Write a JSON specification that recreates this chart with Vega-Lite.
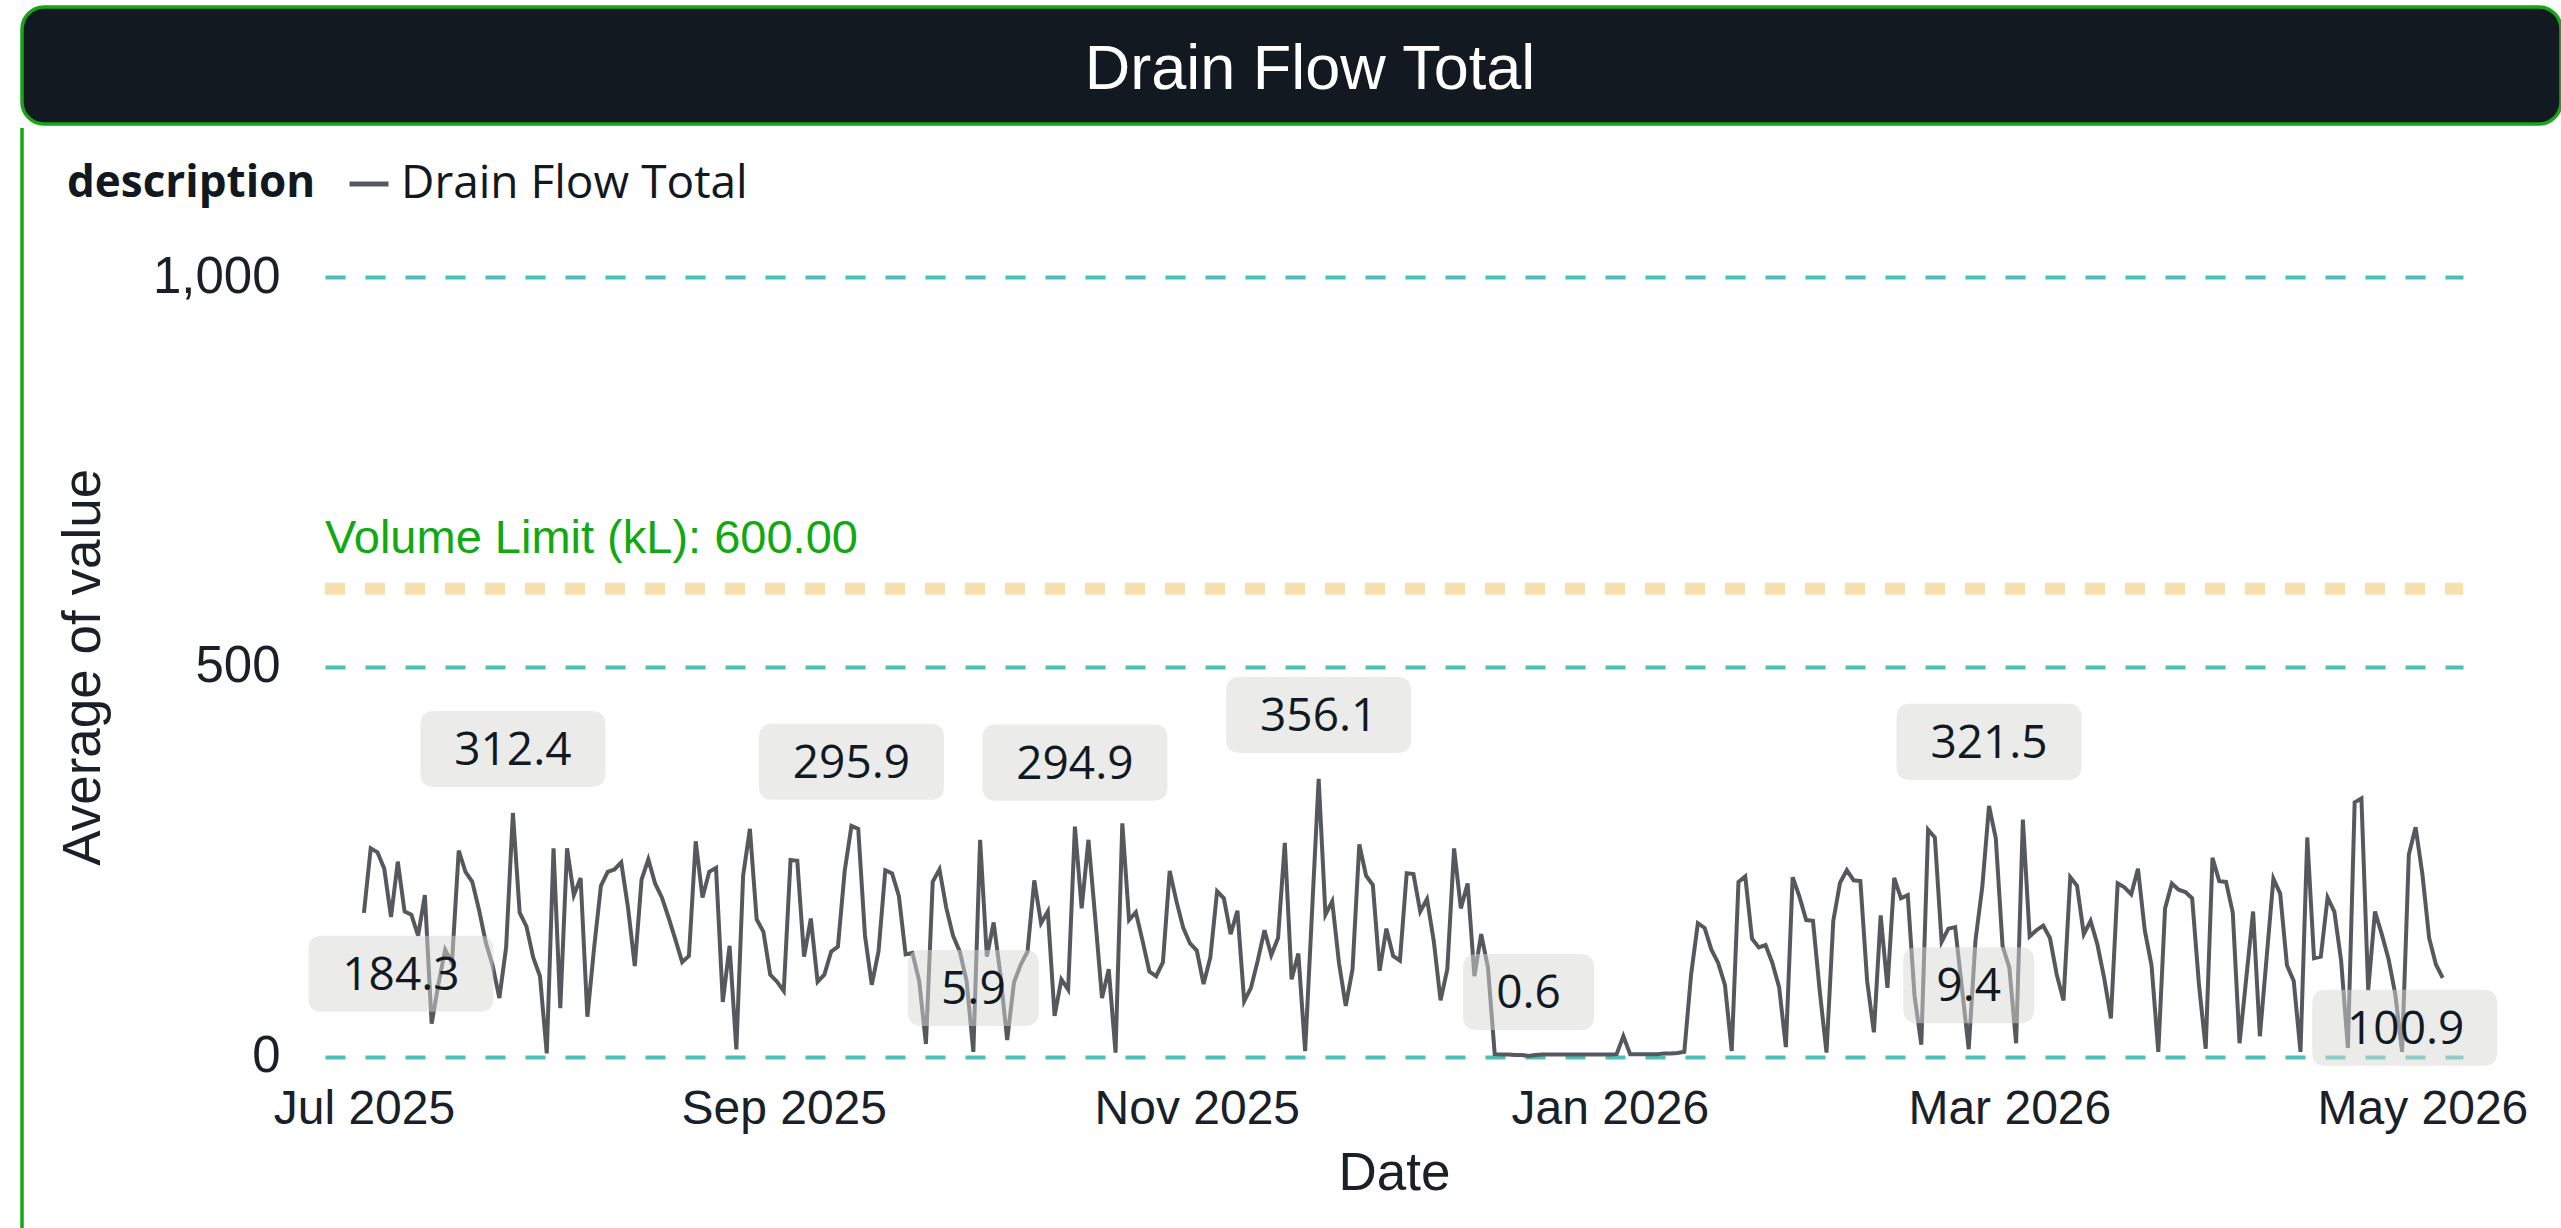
{
  "$schema": "https://vega.github.io/schema/vega-lite/v6.json",
  "background": "white",
  "padding": {"left": 20, "top": 5, "right": 0, "bottom": 0},
  "spacing": 0,
  "datasets": {
    "drain": [
      {"date":"2025-07-01","value":184.3},{"date":"2025-07-02","value":267},{"date":"2025-07-03","value":262},{"date":"2025-07-04","value":241},{"date":"2025-07-05","value":179},{"date":"2025-07-06","value":250},{"date":"2025-07-07","value":186},{"date":"2025-07-08","value":182},{"date":"2025-07-09","value":155},{"date":"2025-07-10","value":207},{"date":"2025-07-11","value":42},{"date":"2025-07-12","value":93},{"date":"2025-07-13","value":137},{"date":"2025-07-14","value":120},{"date":"2025-07-15","value":264},{"date":"2025-07-16","value":237},{"date":"2025-07-17","value":224},{"date":"2025-07-18","value":188},{"date":"2025-07-19","value":146},{"date":"2025-07-20","value":117},{"date":"2025-07-21","value":75},{"date":"2025-07-22","value":140},{"date":"2025-07-23","value":312.4},{"date":"2025-07-24","value":184.5},{"date":"2025-07-25","value":167},{"date":"2025-07-26","value":127},{"date":"2025-07-27","value":103},{"date":"2025-07-28","value":4},{"date":"2025-07-29","value":267},{"date":"2025-07-30","value":62},{"date":"2025-07-31","value":267},
      {"date":"2025-08-01","value":207},{"date":"2025-08-02","value":229},{"date":"2025-08-03","value":51},{"date":"2025-08-04","value":140},{"date":"2025-08-05","value":219},{"date":"2025-08-06","value":237},{"date":"2025-08-07","value":240},{"date":"2025-08-08","value":249},{"date":"2025-08-09","value":191},{"date":"2025-08-10","value":116},{"date":"2025-08-11","value":227},{"date":"2025-08-12","value":253},{"date":"2025-08-13","value":222},{"date":"2025-08-14","value":204},{"date":"2025-08-15","value":178},{"date":"2025-08-16","value":150},{"date":"2025-08-17","value":121},{"date":"2025-08-18","value":129},{"date":"2025-08-19","value":276},{"date":"2025-08-20","value":204},{"date":"2025-08-21","value":237},{"date":"2025-08-22","value":242},{"date":"2025-08-23","value":70},{"date":"2025-08-24","value":142},{"date":"2025-08-25","value":9},{"date":"2025-08-26","value":232},{"date":"2025-08-27","value":292},{"date":"2025-08-28","value":176},{"date":"2025-08-29","value":160},{"date":"2025-08-30","value":105},{"date":"2025-08-31","value":96},
      {"date":"2025-09-01","value":84},{"date":"2025-09-02","value":252},{"date":"2025-09-03","value":251},{"date":"2025-09-04","value":128},{"date":"2025-09-05","value":177},{"date":"2025-09-06","value":96},{"date":"2025-09-07","value":105},{"date":"2025-09-08","value":134.5},{"date":"2025-09-09","value":141},{"date":"2025-09-10","value":238},{"date":"2025-09-11","value":295.9},{"date":"2025-09-12","value":292},{"date":"2025-09-13","value":155},{"date":"2025-09-14","value":92},{"date":"2025-09-15","value":135},{"date":"2025-09-16","value":239},{"date":"2025-09-17","value":235},{"date":"2025-09-18","value":206},{"date":"2025-09-19","value":131},{"date":"2025-09-20","value":133},{"date":"2025-09-21","value":97},{"date":"2025-09-22","value":16},{"date":"2025-09-23","value":224},{"date":"2025-09-24","value":240},{"date":"2025-09-25","value":191},{"date":"2025-09-26","value":155},{"date":"2025-09-27","value":134.5},{"date":"2025-09-28","value":97},{"date":"2025-09-29","value":5.9},{"date":"2025-09-30","value":278},
      {"date":"2025-10-01","value":128},{"date":"2025-10-02","value":172},{"date":"2025-10-03","value":105},{"date":"2025-10-04","value":21},{"date":"2025-10-05","value":95},{"date":"2025-10-06","value":118},{"date":"2025-10-07","value":134.5},{"date":"2025-10-08","value":226},{"date":"2025-10-09","value":171},{"date":"2025-10-10","value":186},{"date":"2025-10-11","value":52},{"date":"2025-10-12","value":99},{"date":"2025-10-13","value":86},{"date":"2025-10-14","value":294.9},{"date":"2025-10-15","value":190},{"date":"2025-10-16","value":278},{"date":"2025-10-17","value":178},{"date":"2025-10-18","value":75},{"date":"2025-10-19","value":112},{"date":"2025-10-20","value":5},{"date":"2025-10-21","value":299},{"date":"2025-10-22","value":175},{"date":"2025-10-23","value":185},{"date":"2025-10-24","value":148},{"date":"2025-10-25","value":109},{"date":"2025-10-26","value":103},{"date":"2025-10-27","value":121},{"date":"2025-10-28","value":238},{"date":"2025-10-29","value":199},{"date":"2025-10-30","value":165},{"date":"2025-10-31","value":145},
      {"date":"2025-11-01","value":136},{"date":"2025-11-02","value":93},{"date":"2025-11-03","value":127},{"date":"2025-11-04","value":212},{"date":"2025-11-05","value":203},{"date":"2025-11-06","value":157},{"date":"2025-11-07","value":187},{"date":"2025-11-08","value":71},{"date":"2025-11-09","value":88},{"date":"2025-11-10","value":123},{"date":"2025-11-11","value":162},{"date":"2025-11-12","value":130},{"date":"2025-11-13","value":152},{"date":"2025-11-14","value":274},{"date":"2025-11-15","value":99},{"date":"2025-11-16","value":132},{"date":"2025-11-17","value":7},{"date":"2025-11-18","value":182},{"date":"2025-11-19","value":356.1},{"date":"2025-11-20","value":182},{"date":"2025-11-21","value":199},{"date":"2025-11-22","value":120},{"date":"2025-11-23","value":65},{"date":"2025-11-24","value":112},{"date":"2025-11-25","value":272},{"date":"2025-11-26","value":232},{"date":"2025-11-27","value":220},{"date":"2025-11-28","value":110},{"date":"2025-11-29","value":164},{"date":"2025-11-30","value":129},
      {"date":"2025-12-01","value":123},{"date":"2025-12-02","value":235},{"date":"2025-12-03","value":234},{"date":"2025-12-04","value":186},{"date":"2025-12-05","value":202},{"date":"2025-12-06","value":148},{"date":"2025-12-07","value":72},{"date":"2025-12-08","value":112},{"date":"2025-12-09","value":267},{"date":"2025-12-10","value":190},{"date":"2025-12-11","value":222},{"date":"2025-12-12","value":103},{"date":"2025-12-13","value":157},{"date":"2025-12-14","value":114},{"date":"2025-12-15","value":3},{"date":"2025-12-16","value":2.5},{"date":"2025-12-17","value":2.5},{"date":"2025-12-18","value":2},{"date":"2025-12-19","value":2},{"date":"2025-12-20","value":0.6},{"date":"2025-12-21","value":2},{"date":"2025-12-22","value":2.5},{"date":"2025-12-23","value":2.5},{"date":"2025-12-24","value":2.5},{"date":"2025-12-25","value":2.5},{"date":"2025-12-26","value":2.5},{"date":"2025-12-27","value":2.5},{"date":"2025-12-28","value":2.5},{"date":"2025-12-29","value":2.5},{"date":"2025-12-30","value":2.5},{"date":"2025-12-31","value":2.5},
      {"date":"2026-01-01","value":2.5},{"date":"2026-01-02","value":3},{"date":"2026-01-03","value":26},{"date":"2026-01-04","value":3},{"date":"2026-01-05","value":3},{"date":"2026-01-06","value":3},{"date":"2026-01-07","value":3},{"date":"2026-01-08","value":3},{"date":"2026-01-09","value":4},{"date":"2026-01-10","value":4},{"date":"2026-01-11","value":4.5},{"date":"2026-01-12","value":6},{"date":"2026-01-13","value":105},{"date":"2026-01-14","value":171},{"date":"2026-01-15","value":165},{"date":"2026-01-16","value":137},{"date":"2026-01-17","value":120},{"date":"2026-01-18","value":92},{"date":"2026-01-19","value":7},{"date":"2026-01-20","value":224},{"date":"2026-01-21","value":231},{"date":"2026-01-22","value":151},{"date":"2026-01-23","value":140},{"date":"2026-01-24","value":143},{"date":"2026-01-25","value":120},{"date":"2026-01-26","value":89},{"date":"2026-01-27","value":12},{"date":"2026-01-28","value":230},{"date":"2026-01-29","value":205},{"date":"2026-01-30","value":175},{"date":"2026-01-31","value":174},
      {"date":"2026-02-01","value":84},{"date":"2026-02-02","value":5},{"date":"2026-02-03","value":174},{"date":"2026-02-04","value":223},{"date":"2026-02-05","value":239},{"date":"2026-02-06","value":226},{"date":"2026-02-07","value":225},{"date":"2026-02-08","value":97},{"date":"2026-02-09","value":31},{"date":"2026-02-10","value":181},{"date":"2026-02-11","value":88},{"date":"2026-02-12","value":229},{"date":"2026-02-13","value":203},{"date":"2026-02-14","value":207},{"date":"2026-02-15","value":78},{"date":"2026-02-16","value":15},{"date":"2026-02-17","value":291},{"date":"2026-02-18","value":281},{"date":"2026-02-19","value":147},{"date":"2026-02-20","value":164},{"date":"2026-02-21","value":166},{"date":"2026-02-22","value":88},{"date":"2026-02-23","value":9.4},{"date":"2026-02-24","value":149},{"date":"2026-02-25","value":217},{"date":"2026-02-26","value":321.5},{"date":"2026-02-27","value":280},{"date":"2026-02-28","value":142},
      {"date":"2026-03-01","value":114},{"date":"2026-03-02","value":17},{"date":"2026-03-03","value":304},{"date":"2026-03-04","value":154},{"date":"2026-03-05","value":162},{"date":"2026-03-06","value":168},{"date":"2026-03-07","value":152},{"date":"2026-03-08","value":105},{"date":"2026-03-09","value":72},{"date":"2026-03-10","value":230},{"date":"2026-03-11","value":219},{"date":"2026-03-12","value":157},{"date":"2026-03-13","value":174},{"date":"2026-03-14","value":144},{"date":"2026-03-15","value":101},{"date":"2026-03-16","value":49},{"date":"2026-03-17","value":222},{"date":"2026-03-18","value":217},{"date":"2026-03-19","value":208},{"date":"2026-03-20","value":241},{"date":"2026-03-21","value":162},{"date":"2026-03-22","value":117},{"date":"2026-03-23","value":6},{"date":"2026-03-24","value":190},{"date":"2026-03-25","value":222},{"date":"2026-03-26","value":214},{"date":"2026-03-27","value":211},{"date":"2026-03-28","value":203},{"date":"2026-03-29","value":93},{"date":"2026-03-30","value":10},{"date":"2026-03-31","value":255},
      {"date":"2026-04-01","value":225},{"date":"2026-04-02","value":224},{"date":"2026-04-03","value":184.5},{"date":"2026-04-04","value":17},{"date":"2026-04-05","value":101},{"date":"2026-04-06","value":186},{"date":"2026-04-07","value":26},{"date":"2026-04-08","value":127},{"date":"2026-04-09","value":228},{"date":"2026-04-10","value":209},{"date":"2026-04-11","value":117},{"date":"2026-04-12","value":97},{"date":"2026-04-13","value":6},{"date":"2026-04-14","value":281},{"date":"2026-04-15","value":126},{"date":"2026-04-16","value":128},{"date":"2026-04-17","value":204},{"date":"2026-04-18","value":186},{"date":"2026-04-19","value":123},{"date":"2026-04-20","value":11},{"date":"2026-04-21","value":326},{"date":"2026-04-22","value":331},{"date":"2026-04-23","value":85},{"date":"2026-04-24","value":186},{"date":"2026-04-25","value":157},{"date":"2026-04-26","value":125},{"date":"2026-04-27","value":80},{"date":"2026-04-28","value":6},{"date":"2026-04-29","value":259},{"date":"2026-04-30","value":294},
      {"date":"2026-05-01","value":234},{"date":"2026-05-02","value":152},{"date":"2026-05-03","value":118},{"date":"2026-05-04","value":100.9}
    ],
    "peaks": [
      {"date":"2025-07-23","value":312.4,"label":"312.4"},
      {"date":"2025-09-11","value":295.9,"label":"295.9"},
      {"date":"2025-10-14","value":294.9,"label":"294.9"},
      {"date":"2025-11-19","value":356.1,"label":"356.1"},
      {"date":"2026-02-26","value":321.5,"label":"321.5"}
    ],
    "lows": [
      {"date":"2025-09-29","value":5.9,"label":"5.9"},
      {"date":"2025-12-20","value":0.6,"label":"0.6"},
      {"date":"2026-02-23","value":9.4,"label":"9.4"}
    ],
    "first": [{"date":"2025-07-01","value":184.3,"label":"184.3"}],
    "last": [{"date":"2026-05-04","value":100.9,"label":"100.9"}],
    "volumeLimit": [{"value":600,"label":"Volume Limit (kL): 600.00","start":"2025-06-25T06:00:00Z","end":"2026-05-07T00:00:00Z"}],
    "header": [{"title":"Drain Flow Total"}]
  },
  "vconcat": [
    {
      "width": 2539,
      "height": 117,
      "view": {"fill": "#121920", "stroke": "#17a617", "strokeWidth": 3.5, "cornerRadius": 22},
      "data": {"name": "header"},
      "mark": {"type": "text", "font": "Liberation Sans", "fontSize": 63, "color": "#ffffff", "baseline": "alphabetic", "align": "center", "dy": 23.5, "dx": 18.5},
      "encoding": {"text": {"field": "title", "type": "nominal"}}
    },
    {
      "width": 2539,
      "height": 1103,
      "view": {"fill": null, "stroke": "#17a617", "strokeWidth": 3.5, "strokeDash": [0, 6181, 1103]},
      "encoding": {
        "x": {
          "field": "date", "type": "temporal", "title": "Date",
          "scale": {"type": "utc", "domain": [{"year":2025,"month":6,"date":25,"hours":6,"utc":true},{"year":2026,"month":5,"date":7,"utc":true}], "range": [303, 2441]},
          "axis": {"values": [{"year":2025,"month":7,"date":1,"utc":true},{"year":2025,"month":9,"date":1,"utc":true},{"year":2025,"month":11,"date":1,"utc":true},{"year":2026,"month":1,"date":1,"utc":true},{"year":2026,"month":3,"date":1,"utc":true},{"year":2026,"month":5,"date":1,"utc":true}], "format": "%b %Y"}
        },
        "y": {
          "field": "value", "type": "quantitative", "title": "Average of value",
          "scale": {"domain": [0, 1000], "range": [928.5, 149], "nice": false, "zero": true},
          "axis": {"values": [0, 500, 1000], "format": ",d"}
        }
      },
      "layer": [
        {
          "data": {"name": "volumeLimit"},
          "mark": {"type": "rule", "color": "#f8dfae", "strokeWidth": 12, "strokeDash": [20, 20]},
          "encoding": {
            "x": {"field": "start", "type": "temporal"},
            "x2": {"field": "end"}
          }
        },
        {
          "data": {"name": "volumeLimit"},
          "mark": {"type": "text", "font": "Liberation Sans", "fontSize": 47, "color": "#12a812", "align": "left", "baseline": "alphabetic", "dy": -36},
          "encoding": {
            "x": {"field": "start", "type": "temporal"},
            "text": {"field": "label", "type": "nominal"}
          }
        },
        {
          "data": {"name": "drain"},
          "mark": {"type": "line", "strokeWidth": 4, "interpolate": "linear"},
          "encoding": {
            "color": {
              "datum": "Drain Flow Total", "type": "nominal",
              "scale": {"range": ["#55595e"]},
              "legend": {"orient": "none", "legendX": 45, "legendY": 154, "direction": "horizontal", "title": "description", "titleOrient": "left", "titleFont": "Open Sans", "titleFontSize": 44, "titleFontWeight": "bold", "titleColor": "#111820", "titlePadding": 30, "titleLimit": 600, "labelFont": "Open Sans", "labelFontSize": 46, "labelColor": "#111820", "labelOffset": 9, "labelLimit": 800, "symbolType": "stroke", "symbolStrokeWidth": 5, "symbolSize": 1521}
            }
          }
        },
        {
          "data": {"name": "peaks"},
          "layer": [
            {"mark": {"type": "point", "shape": "M-0.849,-0.411L0.849,-0.411Q1,-0.411 1,-0.26L1,0.26Q1,0.411 0.849,0.411L-0.849,0.411Q-1,0.411 -1,0.26L-1,-0.26Q-1,-0.411 -0.849,-0.411Z", "size": 34225, "filled": true, "color": "#d7d7d5", "opacity": 0.5, "strokeWidth": 0, "yOffset": -64}},
            {"mark": {"type": "text", "font": "Open Sans", "fontSize": 46, "color": "#111a22", "baseline": "middle", "dy": -62}, "encoding": {"text": {"field": "label", "type": "nominal"}}}
          ]
        },
        {
          "data": {"name": "lows"},
          "layer": [
            {"mark": {"type": "point", "shape": "M-0.786,-0.58L0.786,-0.58Q1,-0.58 1,-0.366L1,0.366Q1,0.58 0.786,0.58L-0.786,0.58Q-1,0.58 -1,0.366L-1,-0.366Q-1,-0.58 -0.786,-0.58Z", "size": 17161, "filled": true, "color": "#d7d7d5", "opacity": 0.5, "strokeWidth": 0, "yOffset": -64}},
            {"mark": {"type": "text", "font": "Open Sans", "fontSize": 46, "color": "#111a22", "baseline": "middle", "dy": -62}, "encoding": {"text": {"field": "label", "type": "nominal"}}}
          ]
        },
        {
          "data": {"name": "first"},
          "layer": [
            {"mark": {"type": "point", "shape": "M-0.849,-0.411L0.849,-0.411Q1,-0.411 1,-0.26L1,0.26Q1,0.411 0.849,0.411L-0.849,0.411Q-1,0.411 -1,0.26L-1,-0.26Q-1,-0.411 -0.849,-0.411Z", "size": 34225, "filled": true, "color": "#d7d7d5", "opacity": 0.5, "strokeWidth": 0, "xOffset": 37, "yOffset": 61}},
            {"mark": {"type": "text", "font": "Open Sans", "fontSize": 46, "color": "#111a22", "baseline": "middle", "dx": 37, "dy": 63}, "encoding": {"text": {"field": "label", "type": "nominal"}}}
          ]
        },
        {
          "data": {"name": "last"},
          "layer": [
            {"mark": {"type": "point", "shape": "M-0.849,-0.411L0.849,-0.411Q1,-0.411 1,-0.26L1,0.26Q1,0.411 0.849,0.411L-0.849,0.411Q-1,0.411 -1,0.26L-1,-0.26Q-1,-0.411 -0.849,-0.411Z", "size": 34225, "filled": true, "color": "#d7d7d5", "opacity": 0.5, "strokeWidth": 0, "xOffset": -38, "yOffset": 50}},
            {"mark": {"type": "text", "font": "Open Sans", "fontSize": 46, "color": "#111a22", "baseline": "middle", "dx": -37, "dy": 52}, "encoding": {"text": {"field": "label", "type": "nominal"}}}
          ]
        }
      ]
    }
  ],
  "config": {
    "view": {"stroke": null},
    "font": "Liberation Sans",
    "axisX": {"offset": -174.5, "grid": false, "domain": false, "ticks": false, "labelPadding": 29, "labelFont": "Liberation Sans", "labelFontSize": 48, "labelColor": "#1a2028", "labelFlush": false, "labelOverlap": false, "labelLimit": 600, "titleFont": "Liberation Sans", "titleFontSize": 53, "titleFontWeight": "normal", "titleColor": "#1a2028", "titlePadding": 14},
    "axisY": {"offset": 0, "minExtent": 0, "grid": true, "gridColor": "#4bc0b6", "gridDash": [20, 20], "gridWidth": 4, "domain": false, "ticks": false, "labelPadding": -258, "labelFont": "Liberation Sans", "labelFontSize": 51, "labelColor": "#1a2028", "labelLimit": 600, "titleFont": "Liberation Sans", "titleFontSize": 53, "titleFontWeight": "normal", "titleColor": "#1a2028", "titlePadding": -88}
  }
}
